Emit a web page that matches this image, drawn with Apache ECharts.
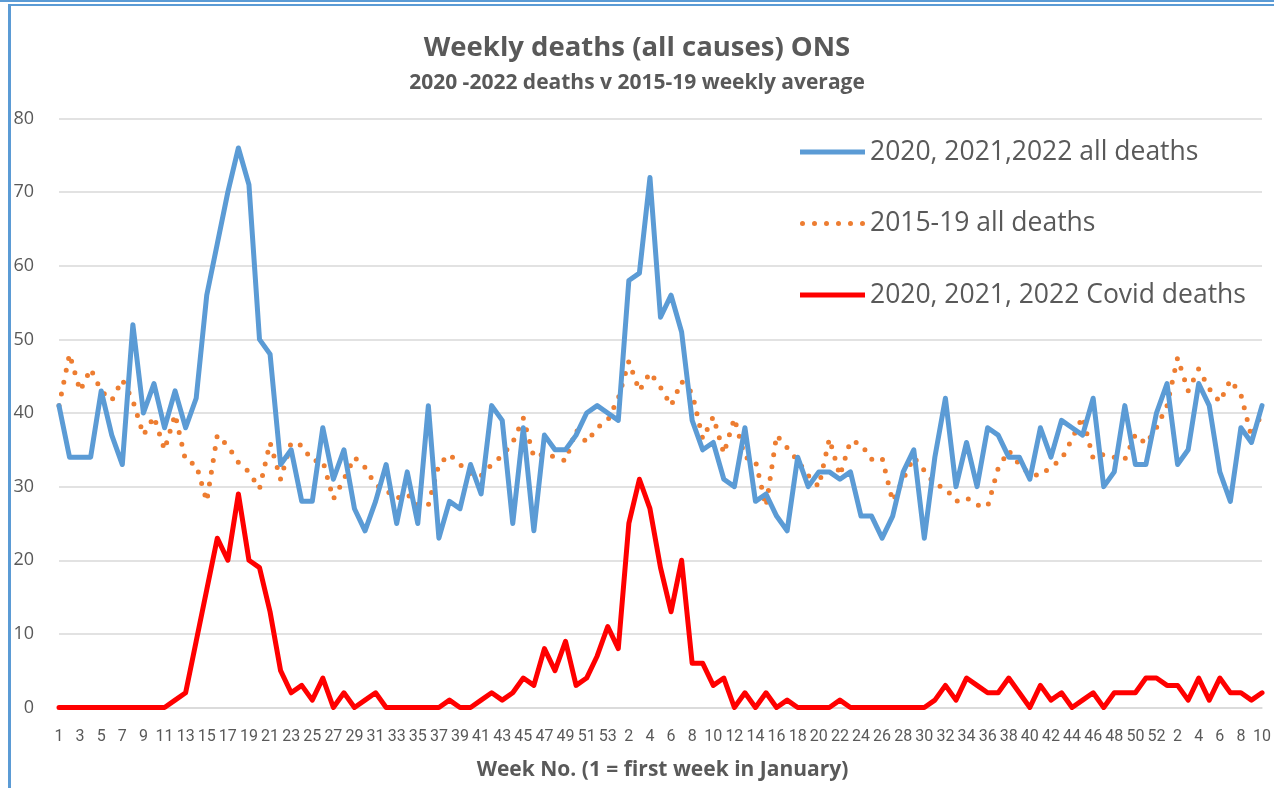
<!DOCTYPE html>
<html>
<head>
<meta charset="utf-8">
<script src="https://cdn.jsdelivr.net/npm/echarts@6/dist/echarts.min.js"></script>
<style>
  html, body { margin: 0; padding: 0; background: #fff; }
  #wrap { position: relative; width: 1274px; height: 788px; overflow: hidden; background: #fff; }
  #chart { position: absolute; left: 0; top: 0; width: 1274px; height: 788px; }
  #topline { position: absolute; left: 0; top: 0; width: 1274px; height: 2px; background: #5b9bd5; }
  #frame { position: absolute; left: 8px; top: 4px; width: 1300px; height: 900px;
           border-left: 3px solid #5b9bd5; border-top: 2px solid #5b9bd5; pointer-events: none; }
</style>
</head>
<body>
<div id="wrap">
  <div id="chart"></div>
  <div id="topline"></div>
  <div id="frame"></div>
</div>
<script>
// ---- tick labels (week numbers) ----
const weeks2020 = [1,2,3,4,5,6,7,8,9,10,11,12,13,14,15,16,17,18,19,20,21,22,23,24,25,26,27,28,29,30,31,32,33,34,35,36,37,38,39,40,41,42,43,44,45,46,47,48,49,50,51,52,53];
const weeks2021 = [1,2,3,4,5,6,7,8,9,10,11,12,13,14,15,16,17,18,19,20,21,22,23,24,25,26,27,28,29,30,31,32,33,34,35,36,37,38,39,40,41,42,43,44,45,46,47,48,49,50,51,52];
const weeks2022 = [1,2,3,4,5,6,7,8,9,10];

// ---- 2020, 2021, 2022 all deaths ----
const allDeaths2020 = [41,34,34,34,43,37,33,52,40,44,38,43,38,42,56,63,70,76,71,50,48,33,35,28,28,38,31,35,27,24,28,33,25,32,25,41,23,28,27,33,29,41,39,25,38,24,37,35,35,37,40,41,40];
const allDeaths2021 = [39,58,59,72,53,56,51,39,35,36,31,30,38,28,29,26,24,34,30,32,32,31,32,26,26,23,26,32,35,23,34,42,30,36,30,38,37,34,34,31,38,34,39,38,37,42,30,32,41,33,33,40];
const allDeaths2022 = [44,33,35,44,41,32,28,38,36,41];

// ---- 2015-19 all deaths (weekly average) ----
const avg1519_2020 = [41,48,43,46,43,41.7,44.5,41.7,37,39.5,35,39.8,33.5,33,28,37,35.5,33.3,32,29.7,36,31,36,35.6,33.5,33.5,28.3,31,34,32.6,30.2,29.5,28.4,29,27.5,27.5,33,34.4,33,31.7,31.5,33,34.2,36,39.3,34,34.5,34,33.5,37.7,36,38,39];
const avg1519_2021 = [42,47,43,45.5,43.5,41,44.3,42.7,36.5,39.5,34.5,39.3,34,33.5,27.3,37,35.3,33.5,31.5,30,36.5,31.5,36.2,35.8,33.7,33.9,28,31,34,32.2,30.3,29.8,28,28.5,27.5,27.3,32.5,34.9,33,31.7,31.5,32.7,33.7,36.5,39.5,33.8,34.4,34,33.7,37.1,35.8,38];
const avg1519_2022 = [41,47.5,43,46,43.3,41.5,44.5,42.5,36.8,40];

// ---- 2020, 2021, 2022 Covid deaths ----
const covid2020 = [0,0,0,0,0,0,0,0,0,0,0,1,2,9,16,23,20,29,20,19,13,5,2,3,1,4,0,2,0,1,2,0,0,0,0,0,0,1,0,0,1,2,1,2,4,3,8,5,9,3,4,7,11];
const covid2021 = [8,25,31,27,19,13,20,6,6,3,4,0,2,0,2,0,1,0,0,0,0,1,0,0,0,0,0,0,0,0,1,3,1,4,3,2,2,4,2,0,3,1,2,0,1,2,0,2,2,2,4,4];
const covid2022 = [3,3,1,4,1,4,2,2,1,2];

const seriesNames = ['2020, 2021,2022 all deaths', '2015-19 all deaths', '2020, 2021, 2022 Covid deaths'];
const yTicks = [0, 10, 20, 30, 40, 50, 60, 70, 80];

const categories = [].concat(weeks2020, weeks2021, weeks2022).map(String);
const allDeaths = [].concat(allDeaths2020, allDeaths2021, allDeaths2022);
const avg1519 = [].concat(avg1519_2020, avg1519_2021, avg1519_2022);
const covid = [].concat(covid2020, covid2021, covid2022);

const chart = echarts.init(document.getElementById('chart'), null, { renderer: 'canvas' });
const grey = '#595959';

// legend icon for the dotted series: six round dots in a 65 x 5 box
let dotPath = 'path://';
for (let k = 0; k < 6; k++) {
  const cx = 2.5 + k * 12;
  dotPath += 'M' + (cx - 2.5) + ',2.5a2.5,2.5 0 1,0 5,0a2.5,2.5 0 1,0 -5,0Z';
}

chart.setOption({
  backgroundColor: '#ffffff',
  animation: false,
  title: [
    { text: 'Weekly deaths (all causes) ONS', left: 'center', top: 29,
      textStyle: { fontFamily: 'Open Sans', fontWeight: 'bold', fontSize: 27.5, color: grey } },
    { text: '2020 -2022 deaths v 2015-19 weekly average', left: 'center', top: 68,
      textStyle: { fontFamily: 'Open Sans', fontWeight: 'bold', fontSize: 21, color: grey } }
  ],
  legend: {
    orient: 'vertical',
    left: 795,
    top: 131,
    itemWidth: 65,
    itemHeight: 5,
    itemGap: 39.5,
    textStyle: { fontFamily: 'Open Sans', fontSize: 26.5, lineHeight: 32, color: grey },
    data: [
      { name: seriesNames[0], icon: 'rect' },
      { name: seriesNames[1], icon: dotPath },
      { name: seriesNames[2], icon: 'rect' }
    ]
  },
  grid: { left: 59, right: 11, top: 118.5, bottom: 80.5, containLabel: false },
  xAxis: {
    type: 'category',
    data: categories,
    boundaryGap: false,
    axisLine: { lineStyle: { color: '#d9d9d9', width: 1.5 } },
    axisTick: { show: false },
    axisLabel: { interval: 1, color: grey, fontFamily: 'Roboto', fontSize: 16, margin: 21 },
    name: 'Week No. (1 = first week in January)',
    nameLocation: 'middle',
    nameGap: 52,
    nameTextStyle: { fontFamily: 'Open Sans', fontWeight: 'bold', fontSize: 21, color: grey, align: 'center', padding: [0, 0, 0, 4] }
  },
  yAxis: {
    type: 'value',
    min: yTicks[0],
    max: yTicks[yTicks.length - 1],
    interval: 10,
    axisLine: { show: false },
    axisTick: { show: false },
    splitLine: { lineStyle: { color: '#d9d9d9', width: 1.5 } },
    axisLabel: { color: grey, fontFamily: 'Open Sans', fontSize: 18, margin: 25 }
  },
  series: [
    {
      name: seriesNames[0], type: 'line', data: allDeaths, symbol: 'none', z: 3,
      color: '#5b9bd5',
      lineStyle: { color: '#5b9bd5', width: 5, cap: 'round', join: 'round' }
    },
    {
      name: seriesNames[1], type: 'line', data: avg1519, symbol: 'none', z: 2,
      color: '#ed7d31',
      lineStyle: { color: '#ed7d31', width: 5, type: [0, 12], cap: 'round', join: 'round' }
    },
    {
      name: seriesNames[2], type: 'line', data: covid, symbol: 'none', z: 4,
      color: '#ff0000',
      lineStyle: { color: '#ff0000', width: 5, cap: 'round', join: 'round' }
    }
  ]
});
</script>
</body>
</html>
